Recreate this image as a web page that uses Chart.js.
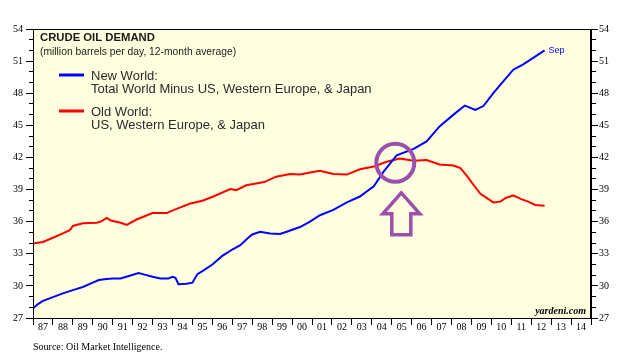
<!DOCTYPE html>
<html>
<head>
<meta charset="utf-8">
<title>Crude Oil Demand</title>
<script src="https://cdn.jsdelivr.net/npm/chart.js@4.4.1/dist/chart.umd.min.js"></script>
<style>
    html, body { margin: 0; padding: 0; background: #fff; }
    #chart { display: block; }
</style>
</head>
<body>
<canvas id="chart" width="626" height="364"></canvas>
<script>
/* ============================
   Datos
============================ */
const newWorldYears = [
    1987.0, 1987.25, 1987.5, 1988.0, 1988.5, 1989.0, 1989.5, 1990.0, 1990.3, 1990.7,
    1991.0, 1991.4, 1991.85, 1992.3, 1992.6, 1993.0, 1993.4, 1993.8, 1994.0, 1994.15,
    1994.3, 1994.7, 1995.0, 1995.25, 1995.6, 1996.0, 1996.5, 1997.0, 1997.4, 1997.8,
    1998.0, 1998.4, 1998.9, 1999.4, 1999.8, 2000.4, 2000.9, 2001.4, 2002.07, 2002.75,
    2003.4, 2004.1, 2004.6, 2005.25, 2006.1, 2006.75, 2007.4, 2008.1, 2008.67, 2009.2,
    2009.6, 2010.1, 2010.5, 2011.1, 2011.6, 2012.1, 2012.67
];
const newWorld = [
    27.9, 28.3, 28.6, 28.95, 29.3, 29.6, 29.9, 30.3, 30.55, 30.65,
    30.7, 30.7, 30.95, 31.2, 31.05, 30.85, 30.7, 30.7, 30.85, 30.75,
    30.15, 30.2, 30.3, 31.1, 31.5, 32.0, 32.8, 33.4, 33.8, 34.5,
    34.8, 35.05, 34.9, 34.85, 35.1, 35.5, 36.0, 36.6, 37.1, 37.8,
    38.35, 39.3, 40.7, 42.2, 42.8, 43.5, 44.9, 46.0, 46.85, 46.45,
    46.8, 48.0, 48.9, 50.2, 50.7, 51.3, 52.0
];

const oldWorldYears = [
    1987.0, 1987.5, 1988.0, 1988.5, 1988.85, 1989.0, 1989.5, 1990.2, 1990.4, 1990.7,
    1990.9, 1991.4, 1991.7, 1992.2, 1993.0, 1993.7, 1994.2, 1994.9, 1995.5, 1996.05,
    1996.9, 1997.2, 1997.7, 1998.6, 1999.2, 1999.9, 2000.4, 2000.9, 2001.4, 2002.07,
    2002.75, 2003.4, 2004.1, 2004.75, 2005.4, 2006.1, 2006.75, 2007.4, 2008.1, 2008.45,
    2008.8, 2009.1, 2009.45, 2010.1, 2010.45, 2010.7, 2011.1, 2011.5, 2011.85, 2012.2,
    2012.67
];
const oldWorld = [
    33.95, 34.1, 34.5, 34.9, 35.2, 35.6, 35.85, 35.9, 36.0, 36.35,
    36.1, 35.9, 35.7, 36.2, 36.8, 36.8, 37.2, 37.7, 37.95, 38.35,
    39.05, 38.95, 39.4, 39.7, 40.2, 40.45, 40.4, 40.6, 40.75, 40.45,
    40.4, 40.9, 41.15, 41.6, 41.9, 41.7, 41.75, 41.35, 41.25, 41.0,
    40.2, 39.45, 38.6, 37.8, 37.87, 38.2, 38.45, 38.1, 37.87, 37.56,
    37.48
];

const xMin = 1987, xMax = 2015;
const yMin = 27, yMax = 54;

const legendItems = [
    { color: "#0000ff", lines: ["New World:", "Total World Minus US, Western Europe, & Japan"] },
    { color: "#ff0000", lines: ["Old World:", "US, Western Europe, & Japan"] },
];

/* ============================
   Utils
============================ */
const SANS = "'Liberation Sans', Arial, sans-serif";
const SERIF = "'Liberation Serif', 'Times New Roman', serif";
const PURPLE = "#9b4fae";

const toPoints = (xs, ys) => xs.map((x, i) => ({ x, y: ys[i] }));
const yearLabel = (v) => String(Math.floor(v) % 100).padStart(2, "0");

// ticks a cada medio año: enteros = marca, mitades = etiqueta
const xTicks = [];
for (let v = xMin; v <= xMax; v += 0.5) xTicks.push({ value: v });

function minorTick(ctx, side) {
    const v = ctx.tick ? ctx.tick.value : 0;
    if (v % 3 === 0) return [];
    return side === "left" ? [0, 3, 4] : [4, 10];
}

function yAxis(position) {
    return {
        type: "linear",
        position,
        min: yMin,
        max: yMax,
        afterFit: (s) => { s.width = position === "left" ? 33 : 35; },
        ticks: {
            stepSize: 1,
            autoSkip: false,
            padding: position === "left" ? 3 : 1,
            color: "#000",
            font: { family: SERIF, size: 10 },
            callback: (v) => (v % 3 === 0 ? v : ""),
        },
        grid: {
            drawOnChartArea: false,
            drawTicks: true,
            tickLength: 7,
            tickColor: "#000",
            tickBorderDash: (ctx) => minorTick(ctx, position),
        },
        border: { display: true, color: "#000", width: 1 },
    };
}

/* ============================
   Plugin: fondo, textos, anotación
============================ */
const decor = {
    id: "decor",
    beforeDraw(chart) {
        const { ctx, chartArea: a } = chart;
        ctx.save();
        ctx.fillStyle = "#ffffe0";
        ctx.fillRect(a.left, a.top, a.right - a.left, a.bottom - a.top);
        ctx.restore();
    },
    afterDraw(chart) {
        const { ctx, chartArea: a, scales } = chart;
        ctx.save();

        // marco
        ctx.strokeStyle = "#000";
        ctx.lineWidth = 1;
        ctx.strokeRect(a.left + 0.5, a.top + 0.5, a.right - a.left - 1, a.bottom - a.top);

        // título
        ctx.fillStyle = "#1a1a1a";
        ctx.textBaseline = "middle";
        ctx.textAlign = "left";
        ctx.font = `bold 11.3px ${SANS}`;
        ctx.fillText("CRUDE OIL DEMAND", 40, 38);
        ctx.font = `10.3px ${SANS}`;
        ctx.fillText("(million barrels per day, 12-month average)", 40, 52);

        // leyenda
        legendItems.forEach((it, i) => {
            const y0 = 75 + i * 36;
            ctx.strokeStyle = it.color;
            ctx.lineWidth = 3;
            ctx.beginPath();
            ctx.moveTo(59, y0);
            ctx.lineTo(84, y0);
            ctx.stroke();
            ctx.fillStyle = "#2a2a2a";
            ctx.font = `13px ${SANS}`;
            it.lines.forEach((t, j) => ctx.fillText(t, 91, y0 + 1 + j * 13));
        });

        // etiqueta final
        const last = newWorldYears.length - 1;
        ctx.fillStyle = "#0000ff";
        ctx.font = `9px ${SANS}`;
        ctx.fillText("Sep", scales.x.getPixelForValue(newWorldYears[last]) + 4,
            scales.y.getPixelForValue(newWorld[last]));

        // marca de agua
        ctx.fillStyle = "#000";
        ctx.textAlign = "right";
        ctx.font = `italic bold 10px ${SERIF}`;
        ctx.fillText("yardeni.com", a.right - 5, a.bottom - 7);

        // fuente
        ctx.textAlign = "left";
        ctx.font = `10px ${SERIF}`;
        ctx.fillText("Source: Oil Market Intelligence.", 33, 347);

        // círculo y flecha en el cruce
        const cx = scales.x.getPixelForValue(2005.18);
        const cy = scales.y.getPixelForValue(41.5);
        ctx.strokeStyle = PURPLE;
        ctx.lineWidth = 4;
        ctx.beginPath();
        ctx.arc(cx, cy, 19, 0, Math.PI * 2);
        ctx.stroke();

        const ax = cx + 6;
        ctx.lineWidth = 3.5;
        ctx.lineJoin = "miter";
        ctx.beginPath();
        ctx.moveTo(ax, cy + 30);
        ctx.lineTo(ax + 18.5, cy + 51);
        ctx.lineTo(ax + 9.5, cy + 51);
        ctx.lineTo(ax + 9.5, cy + 72);
        ctx.lineTo(ax - 9.5, cy + 72);
        ctx.lineTo(ax - 9.5, cy + 51);
        ctx.lineTo(ax - 18.5, cy + 51);
        ctx.closePath();
        ctx.stroke();

        ctx.restore();
    },
};

/* ============================
   Gráfica
============================ */
new Chart(document.getElementById("chart"), {
    type: "line",
    data: {
        datasets: [
            {
                label: "New World",
                data: toPoints(newWorldYears, newWorld),
                borderColor: "#0000ff",
                borderWidth: 2,
                pointRadius: 0,
                tension: 0,
                yAxisID: "y",
            },
            {
                label: "Old World",
                data: toPoints(oldWorldYears, oldWorld),
                borderColor: "#ff0000",
                borderWidth: 2,
                pointRadius: 0,
                tension: 0,
                yAxisID: "y",
            },
        ],
    },
    options: {
        responsive: false,
        animation: false,
        devicePixelRatio: 1,
        layout: { padding: { top: 29, left: 0, right: 0, bottom: 0 } },
        plugins: { legend: { display: false }, tooltip: { enabled: false } },
        scales: {
            x: {
                type: "linear",
                min: xMin,
                max: xMax,
                afterBuildTicks: (s) => { s.ticks = xTicks.map((t) => ({ ...t })); },
                afterFit: (s) => { s.height = 46; },
                ticks: {
                    autoSkip: false,
                    maxRotation: 0,
                    minRotation: 0,
                    padding: -4,
                    color: "#000",
                    font: { family: SERIF, size: 10 },
                    callback: (v) => (v % 1 === 0.5 ? yearLabel(v) : ""),
                },
                grid: {
                    drawOnChartArea: false,
                    tickLength: 7,
                    tickColor: (ctx) => (ctx.tick && ctx.tick.value % 1 === 0 ? "#000" : "rgba(0,0,0,0)"),
                },
                border: { display: true, color: "#000", width: 1 },
            },
            y: yAxis("left"),
            y2: yAxis("right"),
        },
    },
    plugins: [decor],
});
</script>
</body>
</html>
